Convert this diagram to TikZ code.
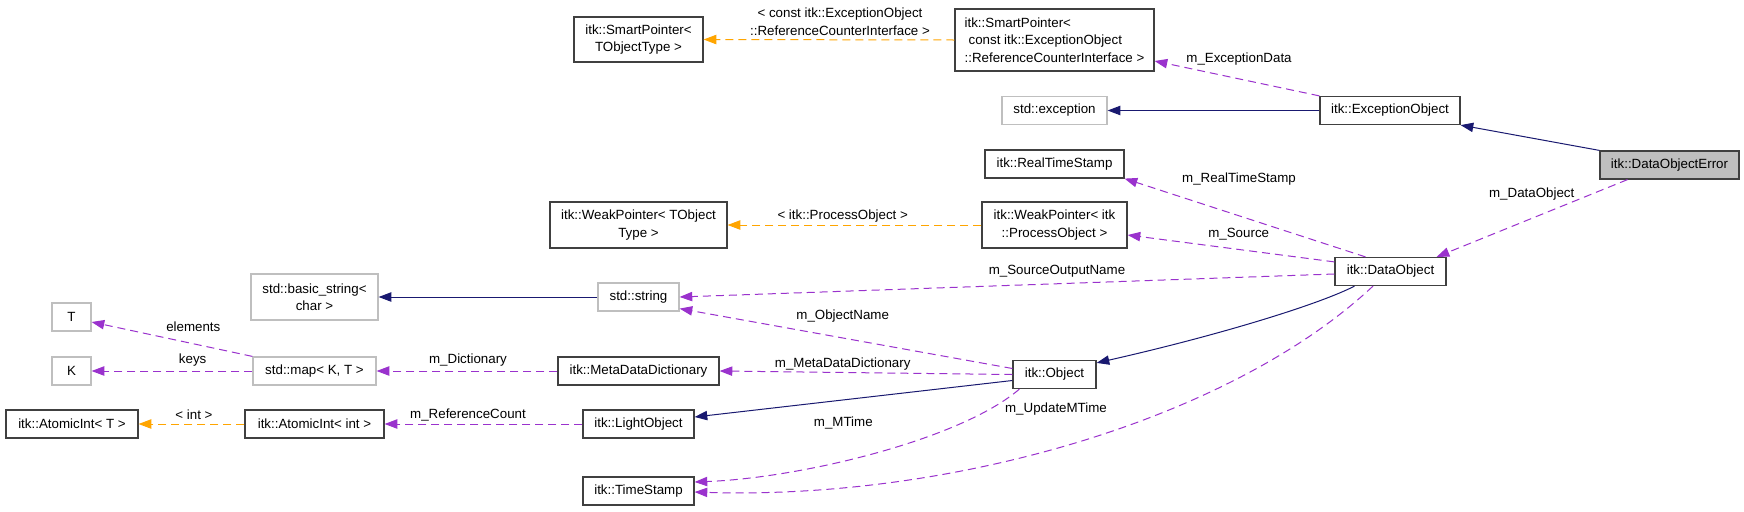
\documentclass[tikz,border=0pt]{standalone}
\usepackage{fontspec}
\setmainfont{Liberation Sans}
\usetikzlibrary{arrows.meta,calc}
\definecolor{navy}{HTML}{191970}
\definecolor{orch}{HTML}{9A32CD}
\definecolor{orng}{HTML}{FFA500}
\definecolor{lgray}{HTML}{BFBFBF}
\definecolor{bord}{HTML}{404040}
\begin{document}
\begin{tikzpicture}[x=0.75pt,y=-0.75pt,
  font=\fontsize{10}{13}\selectfont,
  cls/.style={draw=bord,line width=0.9pt,fill=white,inner sep=0pt,minimum height=21pt,align=center},
  ext/.style={cls,draw=lgray},
  hl/.style={cls,fill=lgray},
  inhr/.style={draw=navy,line width=0.75pt,-{Triangle[length=9.5pt,width=7pt,fill=navy]}},
  usee/.style={draw=orch,line width=0.75pt,dash pattern=on 6pt off 3.75pt,-{Triangle[length=9.5pt,width=7pt,fill=orch]}},
  tpl/.style={draw=orng,line width=0.75pt,dash pattern=on 6pt off 3.75pt,-{Triangle[length=9.5pt,width=7pt,fill=orng]}},
  lbl/.style={inner sep=0pt,align=center}]
\useasboundingbox (0,0) rectangle (1744,511);
\fill[white] (0,0) rectangle (1744,511);

% nodes
\node[cls,minimum width=96.75pt,minimum height=33.75pt] (spT) at (638.5,39.5) {itk::SmartPointer<\\TObjectType >};
\node[cls,minimum width=149.25pt,minimum height=46.5pt,align=left] (spC) at (1054.5,40) {itk::SmartPointer<\\\hspace*{3pt}const itk::ExceptionObject\\::ReferenceCounterInterface >};
\node[ext,minimum width=78.75pt] (stdexc) at (1054.5,110.5) {std::exception};
\node[cls,minimum width=105pt] (excObj) at (1390,110.5) {itk::ExceptionObject};
\node[hl,minimum width=104.25pt] (doe) at (1669.5,165) {itk::DataObjectError};
\node[cls,minimum width=104.25pt] (rts) at (1054.5,164) {itk::RealTimeStamp};
\node[cls,minimum width=132.75pt,minimum height=34.5pt] (wpT) at (638.5,225) {itk::WeakPointer< TObject\\Type >};
\node[cls,minimum width=108.75pt,minimum height=34.5pt] (wpP) at (1054.5,225) {itk::WeakPointer< itk\\::ProcessObject >};
\node[cls,minimum width=83.25pt] (dobj) at (1390.5,271.5) {itk::DataObject};
\node[ext,minimum width=95.25pt,minimum height=34.5pt] (bstr) at (314.5,297) {std::basic\_string<\\char >};
\node[ext,minimum width=60.75pt] (str) at (638.5,297) {std::string};
\node[ext,minimum width=29.25pt] (T) at (71.5,317) {T};
\node[ext,minimum width=29.25pt] (K) at (71.5,371) {K};
\node[ext,minimum width=92.25pt] (map) at (314.5,371) {std::map< K, T >};
\node[cls,minimum width=120.75pt] (mdd) at (638.5,371) {itk::MetaDataDictionary};
\node[cls,minimum width=62.25pt] (obj) at (1054.5,374.5) {itk::Object};
\node[cls,minimum width=99pt] (aiT) at (72,424) {itk::AtomicInt< T >};
\node[cls,minimum width=104.25pt] (aiI) at (314.5,424) {itk::AtomicInt< int >};
\node[cls,minimum width=83.25pt] (lobj) at (638.5,424) {itk::LightObject};
\node[cls,minimum width=83.25pt] (ts) at (638.5,491) {itk::TimeStamp};

% edges
\draw[inhr] (doe.north west) -- (excObj.south east);
\draw[inhr] (excObj.west) -- (stdexc.east);
\draw[usee] (excObj.north west) -- ($(spC.east)+(0,21)$);
\draw[tpl] (spC.west) -- (spT.east);
\draw[usee] ($(doe.south)+(-42,0)$) -- ($(dobj.north east)+(-10,0)$);
\draw[usee] ($(dobj.north)+(-25,0)$) -- (rts.south east);
\draw[usee] ($(dobj.north west)+(0,5)$) -- ($(wpP.east)+(0,10)$);
\draw[tpl] (wpP.west) -- (wpT.east);
\draw[usee] ($(dobj.west)+(0,2.5)$) -- (str.east);
\draw[inhr] ($(dobj.south)+(-36,0)$) .. controls (1320,304) and (1220,335) .. ($(obj.north east)+(0,3)$);
\draw[usee] ($(dobj.south)+(-17.5,0)$) .. controls (1230,420) and (950,500) .. ($(ts.east)+(0,1)$);
\draw[inhr] (str.west) -- (bstr.east);
\draw[usee] ($(obj.west)+(0,-6)$) -- ($(str.south east)+(0,-3)$);
\draw[usee] (obj.west) -- (mdd.east);
\draw[inhr] ($(obj.west)+(0,6)$) -- ($(lobj.east)+(0,-7)$);
\draw[usee] ($(obj.south west)+(7,0)$) .. controls (960,440) and (800,478) .. ($(ts.east)+(0,-9)$);
\draw[usee] (mdd.west) -- (map.east);
\draw[usee] (lobj.west) -- (aiI.east);
\draw[tpl] (aiI.west) -- (aiT.east);
\draw[usee] (map.north west) -- ($(T.east)+(0,5)$);
\draw[usee] (map.west) -- (K.east);

% labels
\node[lbl] (l1) at (840,21.7) {< const itk::ExceptionObject\\::ReferenceCounterInterface >};
\node[lbl] (l2) at (1239,58.7) {m\_ExceptionData};
\node[lbl] (l3) at (1239,179) {m\_RealTimeStamp};
\node[lbl] (l4) at (1531.7,194.3) {m\_DataObject};
\node[lbl] (l5) at (842.7,216) {< itk::ProcessObject >};
\node[lbl] (l6) at (1238.7,234.3) {m\_Source};
\node[lbl] (l7) at (1057,271.7) {m\_SourceOutputName};
\node[lbl] (l8) at (842.7,315.7) {m\_ObjectName};
\node[lbl] (l9) at (842.7,363.7) {m\_MetaDataDictionary};
\node[lbl] (l10) at (1056,409) {m\_UpdateMTime};
\node[lbl] (l11) at (843.3,422.7) {m\_MTime};
\node[lbl] (l12) at (193.3,326.3) {elements};
\node[lbl] (l13) at (192.7,360.3) {keys};
\node[lbl] (l14) at (468,360.3) {m\_Dictionary};
\node[lbl] (l15) at (194,415) {< int >};
\node[lbl] (l16) at (468,415) {m\_ReferenceCount};
\end{tikzpicture}
\end{document}
